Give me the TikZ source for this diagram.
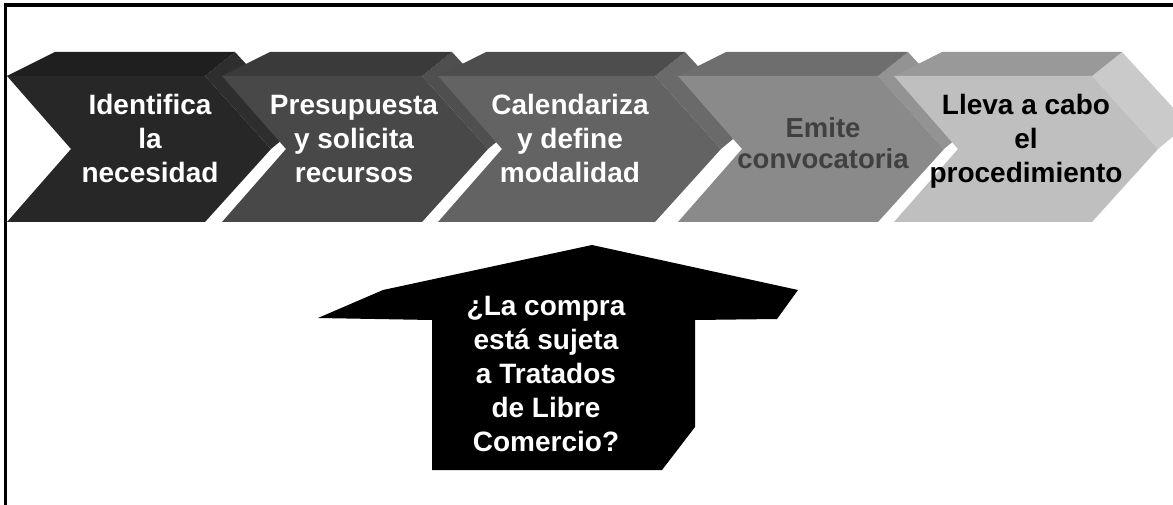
\documentclass[tikz,border=0pt]{standalone}
\usepackage{fontspec}
\setmainfont{Liberation Sans}
\begin{document}
\begin{tikzpicture}[x=1pt, y=-1pt,
  steplabel/.style={font=\fontsize{28}{34}\selectfont\bfseries, align=center, inner sep=0pt},
  thinlabel/.style={steplabel, font=\fontsize{27.5}{31}\selectfont\bfseries}]
  \useasboundingbox (0,0) rectangle (1173,505);
  \clip (0,0) rectangle (1173,505);
  \foreach \l/\r/\cf/\ct/\cs in {7/205/272727/1F1F1F/2E2E2E, 222/422/484848/3A3A3A/4F4F4F,
      438/655/636363/4D4D4D/6A6A6A, 678/878/8A8A8A/6E6E6E/939393, 894/1092/BFBFBF/999999/CACACA} {
    \definecolor{facefront}{HTML}{\cf}
    \definecolor{facetop}{HTML}{\ct}
    \definecolor{faceside}{HTML}{\cs}
    \fill[faceside] (\r,76) -- (\r+30,52) -- (\r+96,124) -- (\r+66,149) -- cycle;
    \fill[facetop] (\l,76) -- (\l+48,52) -- (\r+30,52) -- (\r,76) -- cycle;
    \fill[facefront] (\l,76) -- (\r,76) -- (\r+66,149) -- (\r,222) -- (\l,222) -- (\l+64,149) -- cycle;
  }
  \fill[black] (318,318) -- (383,290) -- (592,245) -- (798,290) -- (777,319) -- (695,320)
    -- (695,427) -- (662,470) -- (432,470) -- (432,320) -- cycle;
  \node[steplabel, text=white] (necesidad) at (150,138) {Identifica\\la\\necesidad};
  \node[steplabel, text=white] (recursos) at (354,139) {Presupuesta\\y solicita\\recursos};
  \node[steplabel, text=white] (modalidad) at (570,138) {Calendariza\\y define\\modalidad};
  \node[thinlabel, text=black!75] (convocatoria) at (823,143) {Emite\\convocatoria};
  \node[steplabel, text=black] (procedimiento) at (1026,141) {Lleva a cabo\\el\\procedimiento};
  \node[steplabel, text=white] (tratados) at (546,374) {¿La compra\\está sujeta\\a Tratados\\de Libre\\Comercio?};
  \draw[line width=3.5pt] (5.5,505) -- (5.5,5) -- (1173,5);
\end{tikzpicture}
\end{document}
